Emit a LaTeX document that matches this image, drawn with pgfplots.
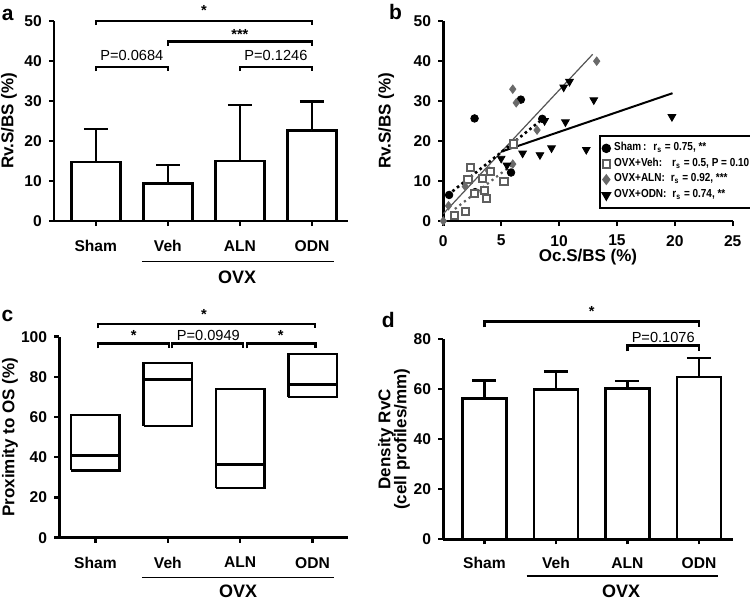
\documentclass[border=0pt]{standalone}
\usepackage{fontspec}
\setmainfont{Liberation Sans}
\newfontfamily\legfont[FakeStretch=0.86]{Liberation Sans}
\usepackage{pgfplots}
\pgfplotsset{compat=1.18}
\definecolor{vehgray}{RGB}{95,95,95}
\definecolor{alngray}{RGB}{105,105,105}
\definecolor{fitgray}{RGB}{85,85,85}
\pgfplotsset{
  myaxis/.style={
    scale only axis,
    anchor=south west,
    axis x line*=bottom, axis y line*=left,
    axis line style={line width=1.25pt, -},
    tick align=outside, major tick length=2.6pt,
    tick style={line width=1.2pt, black},
    tick label style={font=\fontsize{7.8}{9}\selectfont\bfseries},
    /pgf/number format/assume math mode=true,
    label style={font=\fontsize{8.5}{9}\selectfont\bfseries},
    clip=false,
  },
  catax/.style={
    xtick={0,1,2,3}, xticklabels={Sham,Veh,ALN,ODN},
    xticklabel style={yshift=-3.6pt},
  },
  errbar/.style={
    error bars/.cd, y dir=plus, y explicit,
    error bar style={line width=1.25pt},
    error mark options={rotate=90, line width=1.25pt, mark size=6pt},
  },
}
\newcommand{\lab}{\fontsize{7.3}{8}\selectfont}
\newcommand{\ovx}{\fontsize{9}{10}\selectfont\bfseries}
\begin{document}
\begin{tikzpicture}
\path[use as bounding box] (0pt,0pt) rectangle (375pt,299.5pt);
% panel letters
\node[font=\fontsize{10.5}{11}\selectfont\bfseries] at (3.8pt,292pt) {a};
\node[font=\fontsize{10.5}{11}\selectfont\bfseries] at (197.8pt,293.5pt) {b};
\node[font=\fontsize{10.5}{11}\selectfont\bfseries] at (3.7pt,141.5pt) {c};
\node[font=\fontsize{10.5}{11}\selectfont\bfseries] at (194.2pt,139.5pt) {d};

% ---------------- panel a
\begin{axis}[myaxis, catax, at={(27pt,189pt)}, width=147pt, height=100.15pt,
  xmin=-0.58, xmax=3.5, ymin=0, ymax=50, ytick={0,10,20,30,40,50},
  ylabel={Rv.S/BS (\%)}, ylabel style={at={(axis description cs:-0.153,0.5)}, anchor=center}]
\addplot[ybar, bar width=0.68, fill=white, draw=black, line width=1.25pt, errbar]
  table[x=x, y=y, y error=e] {
x y e
0 14.7 8.3
1 9.4 4.6
2 15.0 14.0
3 22.6 7.2
};
\draw[line width=1.1pt] (axis cs:0,48.9) -- (axis cs:0,50) -- (axis cs:3,50) -- (axis cs:3,48.9);
\node[font=\bfseries\lab] at (axis cs:1.5,52.6) {*};
\draw[line width=1.1pt] (axis cs:1,43.7) -- (axis cs:1,44.8) -- (axis cs:3,44.8) -- (axis cs:3,43.7);
\node[font=\bfseries\lab] at (axis cs:2,46.6) {***};
\draw[line width=1.1pt] (axis cs:0,37.4) -- (axis cs:0,38.5) -- (axis cs:1,38.5) -- (axis cs:1,37.4);
\node[font=\lab] at (axis cs:0.5,41.2) {P=0.0684};
\draw[line width=1.1pt] (axis cs:2,37.4) -- (axis cs:2,38.5) -- (axis cs:3,38.5) -- (axis cs:3,37.4);
\node[font=\lab] at (axis cs:2.5,41.2) {P=0.1246};
\draw[line width=0.6pt] (axis cs:0.64,-10.2) -- (axis cs:3.3,-10.2);
\node[font=\ovx] at (axis cs:1.96,-14.0) {OVX};
\end{axis}

% ---------------- panel b
\begin{axis}[myaxis, at={(221.65pt,189pt)}, width=144.7pt, height=100.15pt,
  xmin=0, xmax=25, ymin=0, ymax=50, xtick={0,5,10,15,20,25}, ytick={0,10,20,30,40,50},
  xticklabel style={yshift=-1pt},
  ylabel={Rv.S/BS (\%)}, ylabel style={at={(axis description cs:-0.197,0.5)}, anchor=center},
  xlabel={Oc.S/BS (\%)}, xlabel style={at={(axis description cs:0.5,-0.178)}, anchor=center},
  legend image code/.code={\draw[#1] plot coordinates {(0.06cm,0cm)};},
  legend style={at={(axis cs:13.45,21.5)}, anchor=north west, draw=black, line width=0.9pt,
    font=\legfont\fontsize{5.8}{6}\selectfont\bfseries, inner xsep=1.3pt, inner ysep=2.6pt,
    row sep=0.4pt, column sep=1.3pt,
    nodes={text height=4.3pt, text depth=1.9pt, inner ysep=0.6pt, inner xsep=0.7pt},
    cells={anchor=west}},
  legend cell align=left]
\addplot[forget plot, fitgray, line width=0.6pt] coordinates {(0,1.8) (12.9,41.6)};
\addplot[forget plot, black, line width=1pt] coordinates {(5.0,17.3) (19.8,31.9)};
\addplot[forget plot, black, line width=1.3pt, dash pattern=on 1.3pt off 1.6pt] coordinates {(0.4,6.5) (8.3,24.8)};
\addplot[forget plot, vehgray, line width=1.1pt, dash pattern=on 1.1pt off 1.8pt] coordinates {(1.0,3.0) (6.06,14.3)};
\addplot[only marks, mark=*, mark size=1.9pt, black] table {
x y
2.7 25.6
6.7 30.3
8.55 25.5
5.85 12.1
0.5 6.5
2.1 10.4
4.0 12.5
2.75 7.2
};
\addlegendentry{Sham\,:\; r\textsubscript{s} = 0.75, **}
\addplot[only marks, mark=square*, mark size=1.8pt, mark options={draw=vehgray, fill=white, line width=1pt}] table {
x y
6.06 19.2
2.34 13.3
3.4 10.7
5.25 9.9
2.14 10.3
3.55 7.6
3.7 5.7
2.72 6.9
1.9 2.4
1.0 1.4
4.05 12.4
};
\addlegendentry{OVX+Veh:\;\; r\textsubscript{s} = 0.5, P = 0.10}
\addplot[only marks, mark=diamond*, mark size=2.1pt, mark options={draw=alngray, fill=alngray}] table {
x y
0 0
0.45 3.8
1.9 8.6
6.0 14.2
8.1 22.7
6.3 29.5
6.0 32.9
13.25 39.9
};
\addlegendentry{OVX+ALN:\; r\textsubscript{s} = 0.92, ***}
\addplot[only marks, mark=triangle*, mark size=2.2pt, mark options={rotate=180, draw=black, fill=black}] table {
x y
5.0 15.6
5.5 13.9
6.85 16.9
8.35 16.5
9.35 18.2
12.35 17.8
8.75 25.0
10.55 24.7
10.4 33.4
10.9 34.8
13.0 30.2
19.75 26.0
};
\addlegendentry{OVX+ODN:\; r\textsubscript{s} = 0.74, **}
\end{axis}

% ---------------- panel c
\begin{axis}[myaxis, catax, at={(29.65pt,30.65pt)}, width=144.35pt, height=100.5pt,
  xmin=-0.5, xmax=3.49, ymin=0, ymax=100, ytick={0,20,40,60,80,100},
  ylabel={Proximity to OS (\%)}, ylabel style={at={(axis description cs:-0.171,0.5)}, anchor=center}]
% boxes: min, max (outline) and median line
\addplot[black, line width=1.25pt] coordinates {(-0.335,33.5) (0.335,33.5) (0.335,61) (-0.335,61) (-0.335,33.5)};
\addplot[black, line width=1.25pt] coordinates {(-0.335,41) (0.335,41)};
\addplot[black, line width=1.25pt] coordinates {(0.665,55.5) (1.335,55.5) (1.335,87) (0.665,87) (0.665,55.5)};
\addplot[black, line width=1.25pt] coordinates {(0.665,78.7) (1.335,78.7)};
\addplot[black, line width=1.25pt] coordinates {(1.665,24.8) (2.335,24.8) (2.335,74) (1.665,74) (1.665,24.8)};
\addplot[black, line width=1.25pt] coordinates {(1.665,36.5) (2.335,36.5)};
\addplot[black, line width=1.25pt] coordinates {(2.665,70) (3.335,70) (3.335,91.5) (2.665,91.5) (2.665,70)};
\addplot[black, line width=1.25pt] coordinates {(2.665,76.1) (3.335,76.1)};
\draw[line width=1.1pt] (axis cs:0.04,104.1) -- (axis cs:0.04,106.4) -- (axis cs:3.03,106.4) -- (axis cs:3.03,104.1);
\node[font=\bfseries\lab] at (axis cs:1.5,111.3) {*};
\draw[line width=1.1pt] (axis cs:0.04,94.2) -- (axis cs:0.04,96.6) -- (axis cs:1.02,96.6) -- (axis cs:1.02,94.2);
\node[font=\bfseries\lab] at (axis cs:0.53,100.8) {*};
\draw[line width=1.1pt] (axis cs:1.06,94.2) -- (axis cs:1.06,96.6) -- (axis cs:2.04,96.6) -- (axis cs:2.04,94.2);
\node[font=\lab] at (axis cs:1.56,100.5) {P=0.0949};
\draw[line width=1.1pt] (axis cs:2.09,94.2) -- (axis cs:2.09,96.6) -- (axis cs:3.04,96.6) -- (axis cs:3.04,94.2);
\node[font=\bfseries\lab] at (axis cs:2.56,100.8) {*};
\draw[line width=0.6pt] (axis cs:0.64,-19.9) -- (axis cs:3.3,-19.9);
\node[font=\ovx] at (axis cs:1.97,-26.6) {OVX};
\end{axis}

% ---------------- panel d
\begin{axis}[myaxis, catax, at={(221.65pt,29.85pt)}, width=145pt, height=100pt,
  xmin=-0.575, xmax=3.48, ymin=0, ymax=80, ytick={0,20,40,60,80},
  xticklabel style={yshift=0.6pt},
  ylabel={Density RvC\\(cell profiles/mm)},
  ylabel style={at={(axis description cs:-0.17,0.5)}, anchor=center, align=center, font=\fontsize{8.5}{8}\selectfont\bfseries}]
\addplot[ybar, bar width=0.62, fill=white, draw=black, line width=1.25pt, errbar]
  table[x=x, y=y, y error=e] {
x y e
0 56.3 7.2
1 60.0 7.1
2 60.3 3.0
3 65.0 7.5
};
\draw[line width=1.1pt] (axis cs:0,84.8) -- (axis cs:0,87.1) -- (axis cs:3,87.1) -- (axis cs:3,84.8);
\node[font=\bfseries\lab] at (axis cs:1.5,91.3) {*};
\draw[line width=1.1pt] (axis cs:2,75.2) -- (axis cs:2,77.5) -- (axis cs:3,77.5) -- (axis cs:3,75.2);
\node[font=\lab] at (axis cs:2.5,80.8) {P=0.1076};
\draw[line width=0.6pt] (axis cs:0.59,-14.7) -- (axis cs:3.26,-14.7);
\node[font=\ovx] at (axis cs:1.91,-21.0) {OVX};
\end{axis}
\end{tikzpicture}
\end{document}
